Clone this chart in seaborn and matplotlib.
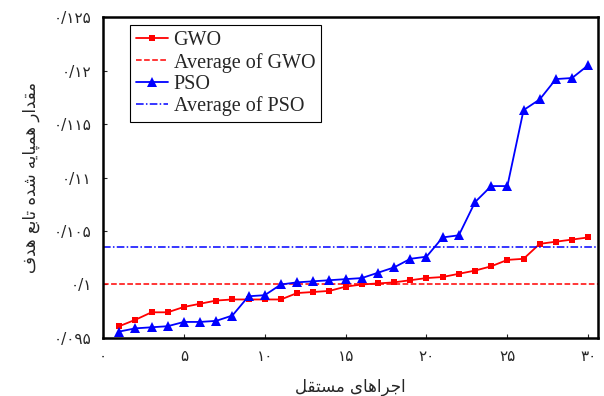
import matplotlib
matplotlib.use("Agg")
import matplotlib.pyplot as plt
import seaborn as sns
import pandas as pd

runs = list(range(1, 31))
gwo = [0.0961, 0.0967, 0.0974, 0.0974, 0.0979, 0.0982, 0.0985, 0.0986, 0.0986, 0.0986,
       0.0986, 0.0992, 0.0993, 0.0994, 0.0998, 0.1000, 0.1001, 0.1002, 0.1004, 0.1006,
       0.1007, 0.1010, 0.1013, 0.1017, 0.1023, 0.1024, 0.1038, 0.1040, 0.1042, 0.1044]
pso = [0.0956, 0.0959, 0.0960, 0.0961, 0.0965, 0.0965, 0.0966, 0.0971, 0.0989, 0.0990,
       0.1000, 0.1002, 0.1003, 0.1004, 0.1005, 0.1006, 0.1011, 0.1016, 0.1024, 0.1026,
       0.1044, 0.1046, 0.1077, 0.1092, 0.1092, 0.1163, 0.1173, 0.1192, 0.1193, 0.1205]
gwo_avg = 0.1000
pso_avg = 0.1035

xticks = [0, 5, 10, 15, 20, 25, 30]
xtick_labels = ["۰", "۵", "۱۰", "۱۵", "۲۰", "۲۵", "۳۰"]
yticks = [0.095, 0.1, 0.105, 0.11, 0.115, 0.12, 0.125]
ytick_labels = ["۰/۰۹۵", "۰/۱", "۰/۱۰۵", "۰/۱۱", "۰/۱۱۵", "۰/۱۲", "۰/۱۲۵"]
xlabel = "اجراهای مستقل"
ylabel = "مقدار همپایه شده تابع هدف"

# presentation forms: isolated, final, initial, medial (None = no joining forward)
FORMS = {
    "ا": ("\uFE8D", "\uFE8E", None, None),
    "ب": ("\uFE8F", "\uFE90", "\uFE91", "\uFE92"),
    "پ": ("\uFB56", "\uFB57", "\uFB58", "\uFB59"),
    "ت": ("\uFE95", "\uFE96", "\uFE97", "\uFE98"),
    "ج": ("\uFE9D", "\uFE9E", "\uFE9F", "\uFEA0"),
    "د": ("\uFEA9", "\uFEAA", None, None),
    "ر": ("\uFEAD", "\uFEAE", None, None),
    "س": ("\uFEB1", "\uFEB2", "\uFEB3", "\uFEB4"),
    "ش": ("\uFEB5", "\uFEB6", "\uFEB7", "\uFEB8"),
    "ع": ("\uFEC9", "\uFECA", "\uFECB", "\uFECC"),
    "ف": ("\uFED1", "\uFED2", "\uFED3", "\uFED4"),
    "ق": ("\uFED5", "\uFED6", "\uFED7", "\uFED8"),
    "ل": ("\uFEDD", "\uFEDE", "\uFEDF", "\uFEE0"),
    "م": ("\uFEE1", "\uFEE2", "\uFEE3", "\uFEE4"),
    "ه": ("\uFEE9", "\uFEEA", "\uFEEB", "\uFEEC"),
    "ی": ("\uFBFC", "\uFBFD", "\uFBFE", "\uFBFF"),
}


def shape(text):
    out = []
    for i, c in enumerate(text):
        if c not in FORMS:
            out.append(c)
            continue
        prev = text[i - 1] if i > 0 else None
        nxt = text[i + 1] if i + 1 < len(text) else None
        jp = prev in FORMS and FORMS[prev][2] is not None
        jn = nxt in FORMS and FORMS[c][2] is not None
        if jp and jn:
            out.append(FORMS[c][3])
        elif jp:
            out.append(FORMS[c][1])
        elif jn:
            out.append(FORMS[c][2])
        else:
            out.append(FORMS[c][0])
    return "".join(reversed(out))


sns.set_style("ticks")
plt.rcParams["font.family"] = ["DejaVu Sans", "Noto Sans"]

df = pd.DataFrame({"run": runs, "GWO": gwo, "PSO": pso})

fig = plt.figure(figsize=(6.04, 3.96), dpi=100)
ax = fig.add_axes([0.1705, 0.1465, 0.8195, 0.8105])

sns.lineplot(data=df, x="run", y="GWO", ax=ax, color="#ff0000", marker="s",
             markersize=4.5, markeredgewidth=0, linewidth=1.3, label="GWO")
ax.axhline(gwo_avg, color="#ff0000", linestyle="--", linewidth=1.1, label="Average of GWO")
sns.lineplot(data=df, x="run", y="PSO", ax=ax, color="#0000ff", marker="^",
             markersize=7, markeredgewidth=0, linewidth=1.3, label="PSO")
ax.axhline(pso_avg, color="#0000ff", linestyle="-.", linewidth=1.1,
           dashes=(5, 1.5, 1, 1.5), label="Average of PSO")

ax.set_xlim(0, 30.6)
ax.set_ylim(0.095, 0.125)
ax.set_xticks(xticks)
ax.set_xticklabels(xtick_labels, fontsize=11)
ax.set_yticks(yticks)
ax.set_yticklabels(ytick_labels, fontsize=11)
ax.tick_params(direction="in", length=3, width=0.8, pad=8)
for s in ax.spines.values():
    s.set_linewidth(1.8)
    s.set_color("black")

ax.set_xlabel(shape(xlabel), fontsize=12, labelpad=10)
ax.set_ylabel(shape(ylabel), fontsize=12, labelpad=10)

leg = ax.legend(loc="upper left", bbox_to_anchor=(0.055, 0.975), borderaxespad=0,
                prop={"family": "Liberation Serif", "size": 14.5}, handlelength=1.6,
                handletextpad=0.25, labelspacing=0.12, fancybox=False, framealpha=1,
                borderpad=0.3)
leg.get_frame().set_edgecolor("black")
leg.get_frame().set_linewidth(0.8)

fig.savefig("out.png", dpi=100)
